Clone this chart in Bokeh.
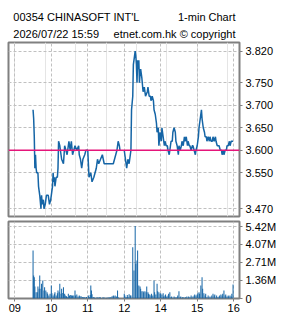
from bokeh.plotting import figure
from bokeh.models import (Range1d, FixedTicker, Grid, Span, CustomJSTickFormatter,
                          NumeralTickFormatter, ColumnDataSource)
from bokeh.layouts import column
from bokeh.embed import file_html
from bokeh.resources import INLINE
from bokeh.core.properties import value

# ---------------- data ----------------
title_left = "00354 CHINASOFT INT'L"
title_right = "1-min Chart"
sub_left = "2026/07/22 15:59"
sub_right = "etnet.com.hk \u00a9 copyright"

prev_close = 3.60
price_ticks = [3.47, 3.55, 3.60, 3.65, 3.70, 3.75, 3.82]

# trading-minute axis: minutes after 09:00, lunch (12:00-13:00) removed
hour_ticks = [0, 60, 120, 180, 240, 300, 360]
hour_labels = ["09", "10", "11", "12", "14", "15", "16"]
lunch_at = 180

price_min = [30, 31, 32, 33, 34, 35, 36, 38, 39, 41, 43, 44, 45, 47, 48, 50, 52, 55, 57, 59,
             60, 62, 63, 64, 65, 66, 68, 70, 71, 72, 74, 76, 77, 80, 81, 82, 84, 86, 89, 91,
             93, 95, 97, 99, 102, 105, 106, 108, 110, 112, 115, 117, 120, 121, 122, 125, 127,
             130, 132, 134, 136, 138, 141, 144, 147, 151, 155, 160, 162, 164, 166, 168, 170,
             172, 173,
             180, 182, 184, 186, 188, 190, 191, 192, 194, 195, 197, 198, 199, 200, 201, 202,
             203, 204, 205, 206, 207, 209, 211, 213, 215, 218, 219, 221, 223, 224, 226, 228,
             229, 231, 233, 234, 236, 237, 239, 241, 242, 244, 246, 247, 249, 251, 252, 254,
             256, 257, 259, 260, 262, 264, 265, 267, 269, 270, 272, 274, 275, 277, 279, 280,
             282, 284, 285, 287, 288, 290, 292, 293, 295, 297, 298, 300, 302, 303, 305, 307,
             308, 310, 312, 313, 315, 316, 318, 320, 321, 323, 325, 326, 328, 330, 331, 333,
             335, 336, 338, 340, 341, 343, 344, 346, 348, 349, 351, 353, 354, 356, 358, 359]
price = [3.69, 3.67, 3.63, 3.56, 3.59, 3.56, 3.55, 3.55, 3.52, 3.50, 3.47, 3.50, 3.48, 3.49,
         3.47, 3.48, 3.50, 3.50, 3.48, 3.49, 3.50, 3.52, 3.55, 3.53, 3.54, 3.52, 3.54, 3.54,
         3.56, 3.62, 3.61, 3.59, 3.58, 3.57, 3.59, 3.61, 3.60, 3.59, 3.62, 3.60, 3.62, 3.59,
         3.60, 3.61, 3.60, 3.61, 3.59, 3.58, 3.56, 3.58, 3.59, 3.60, 3.60, 3.57, 3.54, 3.55,
         3.53, 3.54, 3.55, 3.56, 3.58, 3.57, 3.58, 3.59, 3.57, 3.57, 3.57, 3.57, 3.57, 3.58,
         3.59, 3.60, 3.62, 3.61, 3.60,
         3.60, 3.58, 3.56, 3.58, 3.57, 3.59, 3.60, 3.69, 3.72, 3.79, 3.81, 3.82, 3.81, 3.79,
         3.75, 3.80, 3.78, 3.80, 3.75, 3.77, 3.78, 3.76, 3.73, 3.74, 3.72, 3.73, 3.74, 3.72,
         3.72, 3.71, 3.72, 3.71, 3.69, 3.68, 3.66, 3.64, 3.65, 3.61, 3.64, 3.62, 3.65, 3.63,
         3.61, 3.62, 3.61, 3.61, 3.60, 3.59, 3.61, 3.62, 3.62, 3.64, 3.65, 3.64, 3.62, 3.61,
         3.59, 3.61, 3.60, 3.61, 3.62, 3.61, 3.63, 3.62, 3.63, 3.61, 3.62, 3.61, 3.61, 3.60,
         3.61, 3.61, 3.60, 3.59, 3.60, 3.61, 3.63, 3.65, 3.67, 3.69, 3.67, 3.65, 3.64, 3.63,
         3.63, 3.62, 3.63, 3.62, 3.63, 3.62, 3.62, 3.63, 3.62, 3.63, 3.62, 3.61, 3.61, 3.61,
         3.60, 3.60, 3.59, 3.60, 3.59, 3.60, 3.60, 3.61, 3.61, 3.62, 3.61, 3.62, 3.62, 3.62]

vol_max = 5.42
vol_tick_labels = ["0", "1.36M", "2.71M", "4.07M", "5.42M"]

vol_min = [30, 31, 32, 33, 35, 37, 38, 40, 41, 43, 44, 46, 48, 49, 51, 53, 54, 56, 58, 60,
           61, 63, 65, 66, 68, 70, 71, 73, 74, 76, 77, 79, 80, 82, 83, 85, 87, 88, 90, 92,
           93, 95, 97, 99, 100, 102, 104, 106, 107, 109, 111, 113, 114, 116, 118, 120, 121,
           123, 124, 125, 126, 127, 129, 131, 132, 134, 136, 138, 140, 141, 143, 145, 146,
           148, 150, 151, 153, 155, 156, 158, 160, 162, 163, 165, 167, 169, 170, 172,
           180, 181, 183, 185, 186, 188, 190, 191, 194, 196, 198, 199, 201, 202, 204, 206,
           207, 209, 211, 212, 214, 216, 217, 219, 220, 222, 224, 225, 227, 229, 230, 232,
           234, 235, 237, 239, 240, 242, 244, 245, 247, 248, 250, 252, 253, 255, 257, 258,
           260, 262, 263, 265, 267, 268, 270, 272, 273, 275, 276, 278, 280, 281, 283, 285,
           286, 288, 290, 291, 293, 295, 296, 298, 300, 301, 303, 304, 306, 308, 309, 311,
           313, 314, 316, 318, 319, 321, 323, 324, 326, 328, 329, 331, 332, 334, 336, 337,
           339, 341, 342, 344, 346, 347, 349, 351, 352, 354, 356, 357, 359]
vol = [3.59, 1.72, 1.60, 0.90, 0.47, 0.47, 0.90, 0.73, 1.72, 0.73, 1.10, 1.35, 0.60, 0.85,
       0.60, 0.47, 0.35, 0.22, 0.35, 0.97, 0.40, 0.22, 0.35, 0.47, 0.22, 0.40, 0.60, 0.47,
       1.10, 0.35, 0.73, 0.42, 0.85, 0.35, 0.22, 0.17, 0.10, 0.35, 0.22, 0.27, 0.22, 0.22,
       0.22, 0.60, 0.22, 0.30, 0.15, 0.22, 0.17, 0.17, 0.12, 0.07, 0.12, 0.07, 0.12, 0.05,
       0.22, 0.10, 0.27, 0.97, 0.60, 0.32, 0.12, 0.07, 0.03, 0.07, 0.07, 0.07, 0.12, 0.05,
       0.03, 0.10, 0.05, 0.07, 0.03, 0.05, 0.07, 0.10, 0.05, 0.12, 0.17, 0.22, 0.17, 0.22,
       0.15, 0.60, 0.10, 0.03,
       0.35, 0.22, 0.12, 0.27, 0.12, 0.32, 0.22, 0.22, 3.84, 2.10, 5.42, 2.60, 2.85, 3.60,
       0.97, 0.90, 0.73, 0.55, 0.55, 0.47, 0.55, 0.47, 0.90, 0.47, 0.35, 0.30, 0.22, 0.35,
       0.22, 1.35, 0.47, 0.30, 1.10, 0.55, 0.47, 0.35, 0.40, 0.30, 0.40, 0.15, 0.22, 0.30,
       0.15, 0.22, 0.35, 0.47, 0.10, 0.15, 0.05, 0.15, 0.05, 0.10, 0.10, 0.22, 0.55, 0.10,
       0.15, 0.05, 0.10, 0.10, 0.05, 0.10, 0.15, 0.05, 0.15, 0.10, 0.22, 0.05, 0.15, 0.22,
       0.30, 0.22, 0.30, 0.40, 0.47, 0.35, 0.97, 1.60, 0.73, 0.40, 0.22, 0.35, 0.10, 0.22,
       0.05, 0.15, 0.05, 0.22, 0.35, 0.22, 0.30, 0.05, 0.22, 0.10, 0.15, 0.22, 0.30, 0.22,
       0.35, 0.60, 0.22, 0.30, 0.15, 0.22, 0.15, 0.22, 0.15, 0.35, 1.05]

# ---------------- style ----------------
W = 285
FONT = value("Liberation Sans")
BLUE = "#1565a6"
PINK = "#e5157a"
GRID = "#c0c0c0"
BORDER = "#808080"

# ---------------- header ----------------
hdr = figure(width=W, height=40, x_range=Range1d(0, W), y_range=Range1d(40, 0),
             toolbar_location=None, x_axis_location=None, y_axis_location=None,
             min_border=0, outline_line_color=None, output_backend="svg")
hdr.xgrid.visible = False
hdr.ygrid.visible = False
hdr.text(x=[6, 6], y=[16, 33], text=[title_left, sub_left], text_font=FONT,
         text_font_size="11px", text_color="black", text_align="left",
         text_baseline="alphabetic")
hdr.text(x=[280, 280], y=[16, 33], text=[title_right, sub_right], text_font=FONT,
         text_font_size="11px", text_color="black", text_align="right",
         text_baseline="alphabetic")

# ---------------- price panel ----------------
xr = Range1d(-10.4, 369.6)
pf = figure(width=W, height=180, x_range=xr, y_range=Range1d(3.4529, 3.8393),
            toolbar_location=None, x_axis_location=None, y_axis_location="right",
            min_border_left=8, min_border_right=46, min_border_top=2, min_border_bottom=4,
            outline_line_color=BORDER, outline_line_width=2, output_backend="svg")
pf.add_layout(Grid(dimension=0, ticker=FixedTicker(ticks=hour_ticks),
                   grid_line_color=GRID, grid_line_dash="3 2"))
pf.ygrid.grid_line_color = GRID
pf.ygrid.grid_line_dash = "3 2"

am = ColumnDataSource(dict(x=[m for m in price_min if m < lunch_at],
                           y=[p for m, p in zip(price_min, price) if m < lunch_at]))
pm = ColumnDataSource(dict(x=[m for m in price_min if m >= lunch_at],
                           y=[p for m, p in zip(price_min, price) if m >= lunch_at]))
pf.line("x", "y", source=am, line_color=BLUE, line_width=1.5)
pf.line("x", "y", source=pm, line_color=BLUE, line_width=1.5)
pf.add_layout(Span(location=prev_close, dimension="width", line_color=PINK, line_width=1.5))

ya = pf.yaxis[0]
ya.ticker = FixedTicker(ticks=price_ticks)
ya.formatter = NumeralTickFormatter(format="0.000")

# ---------------- volume panel ----------------
vf = figure(width=W, height=98, x_range=xr, y_range=Range1d(0, 5.764),
            toolbar_location=None, x_axis_location="below", y_axis_location="right",
            min_border_left=8, min_border_right=46, min_border_top=1, min_border_bottom=20,
            outline_line_color=BORDER, outline_line_width=2, output_backend="svg")
vf.vbar(x=vol_min, top=vol, width=1.65, bottom=0, fill_color=BLUE, line_color=None)
vf.xgrid.grid_line_color = GRID
vf.xgrid.grid_line_dash = "3 2"
vf.ygrid.grid_line_color = GRID
vf.ygrid.grid_line_dash = "3 2"

vya = vf.yaxis[0]
vya.ticker = FixedTicker(ticks=[vol_max * i / 4 for i in range(5)])
vya.formatter = CustomJSTickFormatter(args=dict(labels=vol_tick_labels),
                                      code="return labels[index];")
vxa = vf.xaxis[0]
vxa.ticker = FixedTicker(ticks=hour_ticks)
vxa.formatter = CustomJSTickFormatter(args=dict(labels=hour_labels),
                                      code="return labels[index];")

for ax in (ya, vya, vxa):
    ax.axis_line_color = None
    ax.major_tick_line_color = BORDER
    ax.major_tick_out = 3
    ax.major_tick_in = 0
    ax.minor_tick_out = 0
    ax.minor_tick_in = 0
    ax.major_label_text_font = "Liberation Sans"
    ax.major_label_text_font_size = "11px"
    ax.major_label_text_color = "black"
    ax.major_label_standoff = 3
vxa.major_label_standoff = 2

layout = column(hdr, pf, vf, spacing=0)
open("out.html", "w").write(file_html(layout, INLINE))
